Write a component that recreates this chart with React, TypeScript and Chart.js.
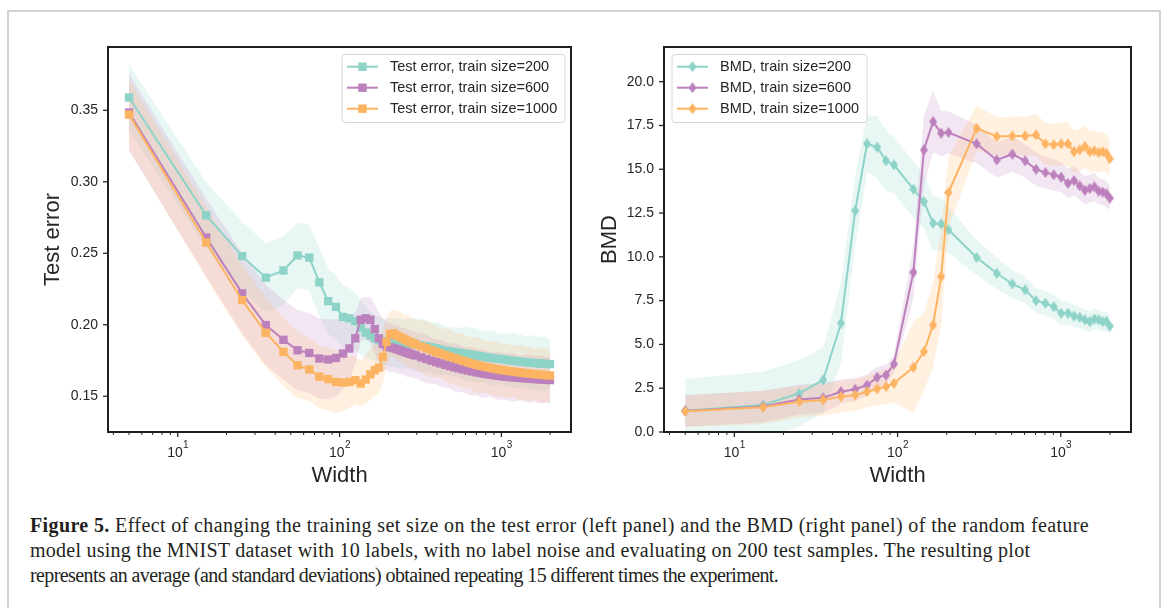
import React, { useEffect, useRef } from "react";
import { Chart, registerables } from "chart.js";

Chart.register(...registerables);

// ---------------- data ----------------
const widthsLeft = [5, 15, 25, 35, 45, 55, 65, 75, 85, 95, 105, 115, 125, 135, 145, 155, 165, 175, 185, 195, 205, 215, 225, 235, 245, 255, 265, 275, 285, 295, 320, 345, 370, 395, 420, 450, 480, 510, 545, 580, 620, 660, 700, 745, 790, 840, 890, 945, 1000, 1060, 1120, 1190, 1260, 1330, 1410, 1490, 1580, 1670, 1770, 1870, 1995];

const testErr200 = [0.359, 0.2765, 0.248, 0.233, 0.238, 0.2485, 0.247, 0.2297, 0.2165, 0.2125,
  0.2055, 0.2045, 0.2025, 0.198, 0.1945, 0.1925, 0.1905, 0.1893, 0.1885, 0.188,
  0.1878, 0.1875, 0.1873, 0.187, 0.1868, 0.1867, 0.1866, 0.1865, 0.1863, 0.186,
  0.1855, 0.185, 0.1842, 0.1835, 0.1828, 0.182, 0.1815, 0.181, 0.1805, 0.18,
  0.1795, 0.179, 0.1785, 0.178, 0.1775, 0.177, 0.1767, 0.1763, 0.176, 0.1756,
  0.1752, 0.1748, 0.1745, 0.1742, 0.1739, 0.1736, 0.1733, 0.1731, 0.1729, 0.1727, 0.1725];
const testErr600 = [0.3485, 0.261, 0.222, 0.1998, 0.1895, 0.1822, 0.1803, 0.1764, 0.1757, 0.1768,
  0.1799, 0.1834, 0.1905, 0.2035, 0.2045, 0.2035, 0.197, 0.1905, 0.1865, 0.185,
  0.1842, 0.1836, 0.183, 0.1822, 0.1815, 0.1808, 0.1802, 0.1796, 0.179, 0.1785,
  0.1772, 0.176, 0.1749, 0.1739, 0.173, 0.172, 0.1711, 0.1703, 0.1695, 0.1688,
  0.168, 0.1674, 0.1668, 0.1662, 0.1657, 0.1652, 0.1648, 0.1644, 0.164, 0.1637,
  0.1634, 0.1631, 0.1629, 0.1627, 0.1625, 0.1623, 0.1621, 0.1619, 0.1617, 0.1615, 0.1613];
const testErr1000 = [0.347, 0.2575, 0.2172, 0.1945, 0.181, 0.1717, 0.1687, 0.1637, 0.162, 0.16,
  0.1596, 0.16, 0.1612, 0.1589, 0.1617, 0.1654, 0.1682, 0.17, 0.1775, 0.188,
  0.1935, 0.194, 0.1925, 0.1915, 0.1905, 0.1895, 0.1885, 0.1877, 0.187, 0.1862,
  0.1848, 0.1835, 0.1822, 0.181, 0.18, 0.1788, 0.1777, 0.1767, 0.1757, 0.1747,
  0.1737, 0.1728, 0.172, 0.1713, 0.1706, 0.17, 0.1694, 0.1689, 0.1684, 0.168,
  0.1676, 0.1672, 0.1668, 0.1665, 0.1662, 0.1659, 0.1656, 0.1653, 0.1651, 0.1648, 0.1645];

const testErrStd200 = [0.023, 0.023, 0.024, 0.024, 0.024, 0.023, 0.023, 0.024, 0.023, 0.022,
  0.022, 0.021, 0.02, 0.019, 0.018, 0.017, 0.016, 0.016, 0.016, 0.0165,
  0.017, 0.0165, 0.017, 0.018, 0.0175, 0.017, 0.018, 0.0175, 0.0185, 0.018,
  0.019, 0.018, 0.0175, 0.0185, 0.018, 0.017, 0.0165, 0.0175, 0.017, 0.0185,
  0.0195, 0.0185, 0.019, 0.018, 0.0175, 0.019, 0.0195, 0.018, 0.0175, 0.019,
  0.0185, 0.0195, 0.0185, 0.019, 0.0175, 0.0185, 0.0195, 0.018, 0.019, 0.0185, 0.0175];
const testErrStd600 = [0.027, 0.027, 0.028, 0.028, 0.028, 0.028, 0.028, 0.028, 0.028, 0.027,
  0.025, 0.022, 0.018, 0.015, 0.015, 0.016, 0.017, 0.018, 0.018, 0.017,
  0.017, 0.0165, 0.017, 0.0165, 0.016, 0.017, 0.0165, 0.016, 0.017, 0.016,
  0.0165, 0.017, 0.016, 0.0155, 0.0165, 0.016, 0.0155, 0.017, 0.0165, 0.016,
  0.0165, 0.017, 0.016, 0.0165, 0.017, 0.0155, 0.016, 0.017, 0.0165, 0.016,
  0.0165, 0.017, 0.016, 0.0155, 0.0165, 0.017, 0.016, 0.0165, 0.017, 0.016, 0.0165];
const testErrStd1000 = [0.024, 0.025, 0.025, 0.024, 0.024, 0.023, 0.022, 0.022, 0.022, 0.022,
  0.02, 0.018, 0.017, 0.016, 0.017, 0.018, 0.018, 0.018, 0.018, 0.017,
  0.016, 0.0165, 0.017, 0.018, 0.0175, 0.017, 0.0185, 0.018, 0.017, 0.0175,
  0.018, 0.019, 0.0185, 0.018, 0.0175, 0.0185, 0.019, 0.018, 0.0185, 0.019,
  0.018, 0.0185, 0.0195, 0.019, 0.018, 0.0185, 0.019, 0.0195, 0.0185, 0.019,
  0.0185, 0.018, 0.019, 0.0195, 0.0185, 0.019, 0.018, 0.0185, 0.0195, 0.019, 0.0185];

const widthsRight = [5, 15, 25, 35, 45, 55, 65, 75, 85, 95, 125, 145, 165, 185, 205, 305, 405, 505, 605, 705, 805, 905, 1005, 1105, 1205, 1305, 1405, 1505, 1605, 1705, 1805, 1905, 1995];

const bmd200 = [1.22, 1.54, 2.21, 2.97, 6.21, 12.64, 16.45, 16.26, 15.48, 15.25, 13.86, 13.15, 11.92, 11.88, 11.54, 9.96, 9.06, 8.45, 8.11, 7.5, 7.35, 7.15, 6.78, 6.78, 6.62, 6.55, 6.4, 6.3, 6.45, 6.4, 6.3, 6.32, 6.05];
const bmd600 = [1.2, 1.45, 1.85, 1.95, 2.3, 2.44, 2.68, 3.12, 3.25, 3.88, 9.12, 16.1, 17.72, 17.06, 17.1, 16.45, 15.53, 15.86, 15.48, 15.0, 14.81, 14.68, 14.55, 14.2, 14.35, 14.05, 13.8, 13.9, 14.0, 13.75, 13.7, 13.6, 13.35];
const bmd1000 = [1.18, 1.41, 1.73, 1.83, 2.02, 2.11, 2.3, 2.46, 2.59, 2.78, 3.69, 4.59, 6.11, 8.87, 13.67, 17.34, 16.87, 16.9, 16.9, 16.96, 16.45, 16.4, 16.45, 16.45, 16.0, 16.1, 16.3, 16.0, 16.05, 15.95, 16.0, 15.9, 15.6];

const bmdStd200 = [1.8, 1.9, 1.9, 1.85, 2.3, 2.0, 1.65, 1.75, 1.75, 1.6, 1.6, 1.55, 1.6, 1.5, 1.3, 1.0, 0.9, 0.8, 0.75, 0.7, 0.7, 0.7, 0.7, 0.65, 0.65, 0.6, 0.6, 0.6, 0.6, 0.55, 0.55, 0.55, 0.5];
const bmdStd600 = [0.9, 0.9, 0.85, 0.85, 0.7, 0.65, 0.6, 0.6, 0.6, 0.5, 1.5, 2.0, 1.75, 1.3, 1.2, 1.1, 1.0, 1.0, 0.95, 0.95, 0.9, 0.9, 0.85, 0.85, 0.85, 0.8, 0.8, 0.8, 0.8, 0.75, 0.75, 0.75, 0.7];
const bmdStd1000 = [0.9, 0.95, 0.9, 0.9, 0.9, 0.9, 0.9, 0.95, 1.0, 1.1, 2.6, 2.2, 2.4, 2.8, 2.0, 1.3, 1.1, 1.1, 1.1, 1.2, 1.2, 1.2, 1.2, 1.25, 1.2, 1.2, 1.2, 1.2, 1.15, 1.15, 1.1, 1.1, 1.05];

const legendLeft = ["Test error, train size=200", "Test error, train size=600", "Test error, train size=1000"];
const legendRight = ["BMD, train size=200", "BMD, train size=600", "BMD, train size=1000"];

const leftYTicks = [0.15, 0.2, 0.25, 0.3, 0.35];
const rightYTicks = [0, 2.5, 5, 7.5, 10, 12.5, 15, 17.5, 20];
const logTicks = [4, 5, 6, 7, 8, 9, 10, 20, 30, 40, 50, 60, 70, 80, 90, 100, 200, 300, 400, 500, 600, 700, 800, 900, 1000, 2000];
const majorLogTicks = [10, 100, 1000];
const majorLogBase = "10";
const majorLogExponents = ["1", "2", "3"];

// ---------------- styles ----------------
const COLORS = ["#8dd3c7", "#bc80bd", "#fdb462"];
const BAND = ["rgba(141,211,199,0.2)", "rgba(188,128,189,0.2)", "rgba(253,180,98,0.2)"];
const TEXT = "#262626";
const SANS = '"Liberation Sans", Arial, sans-serif';

function makeDiamond(color: string) {
  const c = document.createElement("canvas");
  c.width = 8;
  c.height = 11;
  const g = c.getContext("2d")!;
  g.fillStyle = color;
  g.beginPath();
  g.moveTo(4, 0);
  g.lineTo(8, 5.5);
  g.lineTo(4, 11);
  g.lineTo(0, 5.5);
  g.closePath();
  g.fill();
  return c;
}

type PanelSpec = {
  widths: number[];
  means: number[][];
  stds: number[][];
  labels: string[];
  marker: "square" | "diamond";
  yMin: number;
  yMax: number;
  yTicks: number[];
  yDigits: number;
  yTitle: string;
  yTitlePad: number;
  axisWidth: number;
  padRight: number;
  legend: { x: number; y: number; w: number; h: number; hx0: number; hx1: number; tx: number; row0: number };
};

function decoPlugin(spec: PanelSpec, diamonds: HTMLCanvasElement[]) {
  return {
    id: "deco",
    afterDraw(chart: any) {
      const { ctx, chartArea: a, scales } = chart;
      ctx.save();
      ctx.strokeStyle = TEXT;
      const xs = scales.x;
      xs.ticks.forEach((t: any) => {
        const px = xs.getPixelForValue(t.value);
        if (px < a.left - 0.5 || px > a.right + 0.5) return;
        const mi = majorLogTicks.indexOf(t.value);
        const major = mi >= 0;
        ctx.strokeStyle = TEXT;
        ctx.lineWidth = major ? 1.3 : 1;
        ctx.beginPath();
        ctx.moveTo(px, a.bottom);
        ctx.lineTo(px, a.bottom + (major ? 5 : 3));
        ctx.stroke();
        if (major) {
          // matplotlib-style 10^k label: base + raised smaller exponent
          ctx.fillStyle = TEXT;
          ctx.textBaseline = "alphabetic";
          ctx.textAlign = "left";
          ctx.font = `14px ${SANS}`;
          const wb = ctx.measureText(majorLogBase).width;
          ctx.font = `10px ${SANS}`;
          const we = ctx.measureText(majorLogExponents[mi]).width;
          const x0 = px - (wb + we) / 2;
          ctx.font = `14px ${SANS}`;
          ctx.fillText(majorLogBase, x0, a.bottom + 24.5);
          ctx.font = `10px ${SANS}`;
          ctx.fillText(majorLogExponents[mi], x0 + wb + 0.3, a.bottom + 16);
        }
      });
      const ys = scales.y;
      ys.ticks.forEach((t: any) => {
        const py = ys.getPixelForValue(t.value);
        ctx.lineWidth = 1.3;
        ctx.strokeStyle = TEXT;
        ctx.beginPath();
        ctx.moveTo(a.left - 5, py);
        ctx.lineTo(a.left, py);
        ctx.stroke();
      });
      // spines
      ctx.lineWidth = 2;
      ctx.strokeStyle = "#1e1e1e";
      ctx.strokeRect(a.left, a.top, a.right - a.left, a.bottom - a.top);

      // legend
      const L = spec.legend;
      ctx.beginPath();
      const r = 3;
      ctx.moveTo(L.x + r, L.y);
      ctx.lineTo(L.x + L.w - r, L.y);
      ctx.arcTo(L.x + L.w, L.y, L.x + L.w, L.y + r, r);
      ctx.lineTo(L.x + L.w, L.y + L.h - r);
      ctx.arcTo(L.x + L.w, L.y + L.h, L.x + L.w - r, L.y + L.h, r);
      ctx.lineTo(L.x + r, L.y + L.h);
      ctx.arcTo(L.x, L.y + L.h, L.x, L.y + L.h - r, r);
      ctx.lineTo(L.x, L.y + r);
      ctx.arcTo(L.x, L.y, L.x + r, L.y, r);
      ctx.closePath();
      ctx.fillStyle = "rgba(255,255,255,0.8)";
      ctx.fill();
      ctx.strokeStyle = "#d6d6d6";
      ctx.lineWidth = 1;
      ctx.stroke();
      spec.labels.forEach((lab, i) => {
        const y = L.row0 + i * 21;
        ctx.strokeStyle = COLORS[i];
        ctx.lineWidth = 2;
        ctx.beginPath();
        ctx.moveTo(L.hx0, y);
        ctx.lineTo(L.hx1, y);
        ctx.stroke();
        const mx = (L.hx0 + L.hx1) / 2;
        if (spec.marker === "square") {
          ctx.fillStyle = COLORS[i];
          ctx.fillRect(mx - 4.2, y - 4.2, 8.4, 8.4);
        } else {
          const d = diamonds[i];
          ctx.drawImage(d, mx - d.width / 2, y - d.height / 2);
        }
        ctx.fillStyle = TEXT;
        ctx.font = `14.5px ${SANS}`;
        ctx.textBaseline = "middle";
        ctx.textAlign = "left";
        ctx.fillText(lab, L.tx, y + 0.5);
      });
      ctx.restore();
    },
  };
}

function buildConfig(spec: PanelSpec): any {
  const diamonds = COLORS.map((c) => makeDiamond(c));
  const datasets: any[] = [];
  spec.means.forEach((m, i) => {
    datasets.push({
      label: spec.labels[i],
      data: spec.widths.map((w, k) => ({ x: w, y: m[k] })),
      borderColor: COLORS[i],
      borderWidth: 2,
      pointStyle: spec.marker === "square" ? "rect" : diamonds[i],
      pointRadius: spec.marker === "square" ? 5.9 : 5,
      pointHoverRadius: spec.marker === "square" ? 5.9 : 5,
      pointBackgroundColor: COLORS[i],
      pointBorderWidth: 0,
      fill: false,
      tension: 0,
      order: 2 - i,
    });
  });
  spec.means.forEach((m, i) => {
    const s = spec.stds[i];
    datasets.push({
      label: "upper" + i,
      data: spec.widths.map((w, k) => ({ x: w, y: m[k] + s[k] })),
      borderColor: "rgba(0,0,0,0)",
      borderWidth: 0,
      pointRadius: 0,
      pointHoverRadius: 0,
      fill: 4 + 2 * i,
      backgroundColor: BAND[i],
      tension: 0,
      order: 5 - i,
    });
    datasets.push({
      label: "lower" + i,
      data: spec.widths.map((w, k) => ({ x: w, y: m[k] - s[k] })),
      borderColor: "rgba(0,0,0,0)",
      borderWidth: 0,
      pointRadius: 0,
      pointHoverRadius: 0,
      fill: false,
      tension: 0,
      order: 5 - i,
    });
  });

  return {
    type: "line",
    data: { datasets },
    options: {
      responsive: false,
      animation: false,
      devicePixelRatio: 1,
      events: [],
      layout: { padding: { top: 47, left: 0, right: spec.padRight, bottom: 0 } },
      plugins: { legend: { display: false }, tooltip: { enabled: false }, title: { display: false } },
      scales: {
        x: {
          type: "logarithmic",
          min: 3.707,
          max: 2692,
          afterBuildTicks: (s: any) => {
            s.ticks = logTicks.map((v) => ({ value: v }));
          },
          afterFit: (s: any) => {
            s.height = 68;
          },
          ticks: {
            autoSkip: false,
            maxRotation: 0,
            minRotation: 0,
            padding: 6,
            color: TEXT,
            font: { family: SANS, size: 14 },
            callback: () => "",
          },
          grid: { display: true, drawOnChartArea: false, drawTicks: true, tickLength: 5, color: "rgba(0,0,0,0)" },
          border: { display: false },
          title: {
            display: true,
            text: "Width",
            color: TEXT,
            font: { family: SANS, size: 22 },
            padding: { top: 0, bottom: 10.5 },
          },
        },
        y: {
          type: "linear",
          min: spec.yMin,
          max: spec.yMax,
          afterBuildTicks: (s: any) => {
            s.ticks = spec.yTicks.map((v) => ({ value: v }));
          },
          afterFit: (s: any) => {
            s.width = spec.axisWidth;
          },
          ticks: {
            padding: 5,
            color: TEXT,
            font: { family: SANS, size: 14 },
            callback: (v: any) => Number(v).toFixed(spec.yDigits),
          },
          grid: { display: true, drawOnChartArea: false, drawTicks: true, tickLength: 5, color: "rgba(0,0,0,0)" },
          border: { display: false },
          title: {
            display: true,
            text: spec.yTitle,
            color: TEXT,
            font: { family: SANS, size: 22 },
            padding: { top: spec.yTitlePad, bottom: 0 },
          },
        },
      },
    },
    plugins: [decoPlugin(spec, diamonds)],
  };
}

const leftSpec: PanelSpec = {
  widths: widthsLeft,
  means: [testErr200, testErr600, testErr1000],
  stds: [testErrStd200, testErrStd600, testErrStd1000],
  labels: legendLeft,
  marker: "square",
  yMin: 0.125,
  yMax: 0.3943,
  yTicks: leftYTicks,
  yDigits: 2,
  yTitle: "Test error",
  yTitlePad: 39.5,
  axisWidth: 108,
  padRight: 19,
  legend: { x: 342, y: 54.5, w: 223, h: 68, hx0: 347, hx1: 378, tx: 390, row0: 66.7 },
};

const rightSpec: PanelSpec = {
  widths: widthsRight,
  means: [bmd200, bmd600, bmd1000],
  stds: [bmdStd200, bmdStd600, bmdStd1000],
  labels: legendRight,
  marker: "diamond",
  yMin: 0,
  yMax: 21.98,
  yTicks: rightYTicks,
  yDigits: 1,
  yTitle: "BMD",
  yTitlePad: 6.8,
  axisWidth: 74,
  padRight: 36,
  legend: { x: 82, y: 54.5, w: 195, h: 68, hx0: 87, hx1: 118, tx: 130, row0: 66.7 },
};

export default function App() {
  const leftRef = useRef<HTMLCanvasElement>(null);
  const rightRef = useRef<HTMLCanvasElement>(null);

  useEffect(() => {
    const c1 = new Chart(leftRef.current as HTMLCanvasElement, buildConfig(leftSpec));
    const c2 = new Chart(rightRef.current as HTMLCanvasElement, buildConfig(rightSpec));
    return () => {
      c1.destroy();
      c2.destroy();
    };
  }, []);

  return (
    <div style={{ position: "absolute", left: 0, top: 0, width: 1167, height: 608, overflow: "hidden", background: "#ffffff" }}>
      <div
        style={{
          position: "absolute",
          left: 7,
          top: 10,
          width: 1154,
          height: 700,
          border: "2px solid #d2d2d2",
          boxSizing: "border-box",
        }}
      />
      <canvas ref={leftRef} width={590} height={500} style={{ position: "absolute", left: 0, top: 0, width: 590, height: 500 }} />
      <canvas ref={rightRef} width={577} height={500} style={{ position: "absolute", left: 590, top: 0, width: 577, height: 500 }} />
      <div
        style={{
          position: "absolute",
          left: 30,
          top: 513,
          fontFamily: '"Liberation Serif", "Times New Roman", serif',
          fontSize: 20,
          lineHeight: "25px",
          color: "#231f20",
          whiteSpace: "nowrap",
        }}
      >
        <div style={{ letterSpacing: "0.38px" }}>
          <b>Figure 5.</b> Effect of changing the training set size on the test error (left panel) and the BMD (right panel) of the random feature
        </div>
        <div style={{ letterSpacing: "0.25px" }}>
          model using the MNIST dataset with 10 labels, with no label noise and evaluating on 200 test samples. The resulting plot
        </div>
        <div style={{ letterSpacing: "-0.6px" }}>
          represents an average (and standard deviations) obtained repeating 15 different times the experiment.
        </div>
      </div>
    </div>
  );
}
